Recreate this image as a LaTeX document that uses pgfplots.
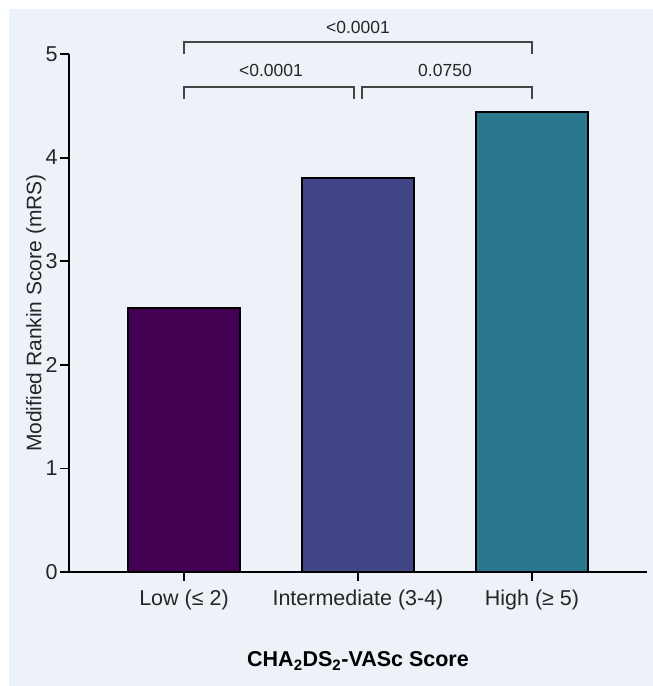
\documentclass[border=0pt]{standalone}
\usepackage{pgfplots}
\pgfplotsset{compat=1.18}
\usepackage{fontspec}
\setmainfont{Liberation Sans}
\definecolor{panel}{RGB}{237,241,248}
\definecolor{cLow}{RGB}{68,1,84}
\definecolor{cMid}{RGB}{65,68,135}
\definecolor{cHigh}{RGB}{42,120,142}
\definecolor{brk}{RGB}{68,68,68}
\begin{document}
\begin{tikzpicture}
\useasboundingbox (0,0) rectangle (653bp,686bp);
\fill[white] (0,0) rectangle (653bp,686bp);
\fill[panel] (9bp,0) rectangle (653bp,677bp);
\begin{axis}[
  at={(69bp,114bp)}, anchor=south west,
  scale only axis, width=578bp, height=518bp,
  xmin=-0.661, xmax=2.661, ymin=0, ymax=5,
  axis lines=left, axis line style={-, line width=1.8bp, black},
  clip=false,
  xtick={0,1,2},
  xticklabels={Low (≤ 2), Intermediate (3-4), High (≥ 5)},
  ytick={0,1,2,3,4,5},
  tick align=outside, major tick length=9bp,
  tick style={line width=1.8bp, black},
  /pgf/number format/assume math mode=true,
  ticklabel style={font=\fontsize{21.5bp}{25bp}\selectfont, text=black!85},
  yticklabel style={xshift=1bp},
  xticklabel style={yshift=-5bp},
  every axis y label/.style={at={(axis description cs:0,0.5)}, rotate=90, anchor=center, yshift=33bp},
  every axis x label/.style={at={(axis description cs:0.5,0)}, anchor=center, yshift=-89bp},
  ylabel={Modified Rankin Score (mRS)},
  ylabel style={font=\fontsize{21bp}{25bp}\selectfont, text=black!85},
  xlabel={\textbf{CHA\textsubscript{2}DS\textsubscript{2}-VASc Score}},
  xlabel style={font=\fontsize{21.5bp}{25bp}\selectfont},
]
\addplot[ybar, bar width=112bp, bar shift=0pt, draw=black, line width=1.8bp, fill=cLow] coordinates {(0,2.55)};
\addplot[ybar, bar width=112bp, bar shift=0pt, draw=black, line width=1.8bp, fill=cMid] coordinates {(1,3.80)};
\addplot[ybar, bar width=112bp, bar shift=0pt, draw=black, line width=1.8bp, fill=cHigh] coordinates {(2,4.44)};
\draw[brk, line width=2bp] (axis cs:0,5.0) -- (axis cs:0,5.12) -- (axis cs:2,5.12) -- (axis cs:2,5.0);
\draw[brk, line width=2bp] (axis cs:0,4.57) -- (axis cs:0,4.68) -- (axis cs:0.977,4.68) -- (axis cs:0.977,4.57);
\draw[brk, line width=2bp] (axis cs:1.023,4.57) -- (axis cs:1.023,4.68) -- (axis cs:2,4.68) -- (axis cs:2,4.57);
\node[font=\fontsize{17.5bp}{20bp}\selectfont, text=black!85] at (axis cs:1,5.26) {<0.0001};
\node[font=\fontsize{17.5bp}{20bp}\selectfont, text=black!85] at (axis cs:0.5,4.84) {<0.0001};
\node[font=\fontsize{17.5bp}{20bp}\selectfont, text=black!85] at (axis cs:1.5,4.84) {0.0750};
\end{axis}
\end{tikzpicture}
\end{document}
